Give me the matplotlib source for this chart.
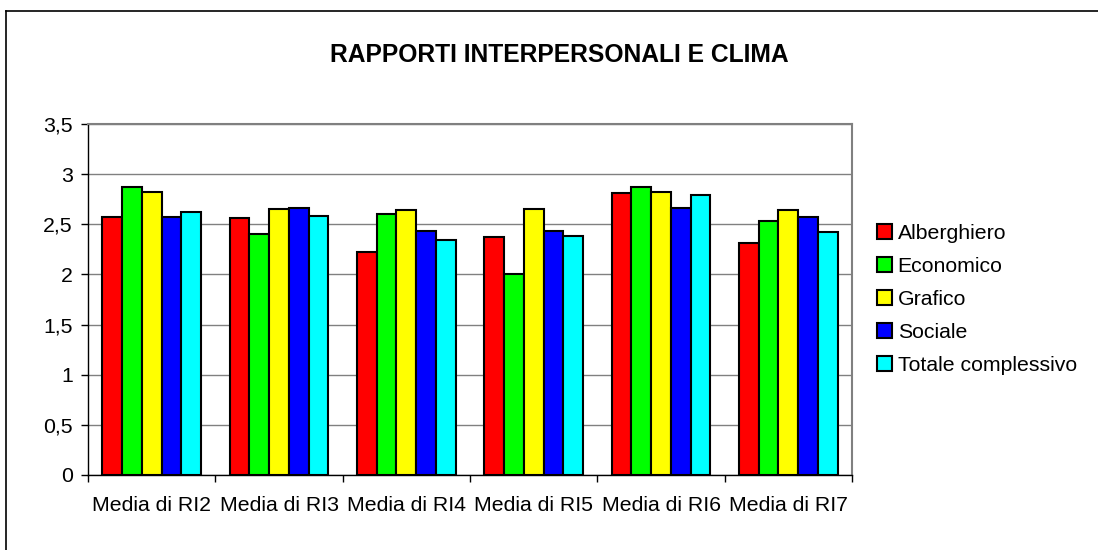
import numpy as np
import matplotlib
matplotlib.use('Agg')
import matplotlib.pyplot as plt
from matplotlib.patches import Patch

plt.rcParams['font.family'] = ['Liberation Sans', 'DejaVu Sans']

categorie = ['Media di RI2', 'Media di RI3', 'Media di RI4',
             'Media di RI5', 'Media di RI6', 'Media di RI7']
serie = ['Alberghiero', 'Economico', 'Grafico', 'Sociale', 'Totale complessivo']
colori = ['#FF0000', '#00FF00', '#FFFF00', '#0000FF', '#00FFFF']

alberghiero = [2.57, 2.56, 2.22, 2.37, 2.81, 2.31]
economico = [2.87, 2.40, 2.60, 2.00, 2.87, 2.53]
grafico = [2.82, 2.65, 2.64, 2.65, 2.82, 2.64]
sociale = [2.57, 2.66, 2.43, 2.43, 2.66, 2.57]
totale = [2.62, 2.58, 2.34, 2.38, 2.79, 2.42]
valori = [alberghiero, economico, grafico, sociale, totale]

yticks = [0, 0.5, 1, 1.5, 2, 2.5, 3, 3.5]
ylabels = ['0', '0,5', '1', '1,5', '2', '2,5', '3', '3,5']

fs = 15.3
fig = plt.figure(figsize=(10.98, 5.5), dpi=100)
ax = fig.add_axes([88 / 1098, 1 - 475 / 550, (852 - 88) / 1098, (475 - 124) / 550])

x = np.arange(len(categorie))
w = 0.1545
for i, (nome, vals) in enumerate(zip(serie, valori)):
    ax.bar(x + (i - 2) * w, vals, width=w, color=colori[i], edgecolor='black',
           linewidth=1.5, label=nome, zorder=3)

ax.set_xlim(-0.5, len(categorie) - 0.5)
ax.set_ylim(0, 3.5)
ax.set_yticks(yticks)
ax.set_yticklabels(ylabels, fontsize=fs)
ax.set_xticks(x)
ax.set_xticklabels(categorie, fontsize=fs)
ax.set_xticks(np.arange(-0.5, len(categorie), 1), minor=True)
ax.tick_params(axis='x', which='major', length=0, pad=15)
ax.tick_params(axis='x', which='minor', length=5, width=1, direction='out')
ax.tick_params(axis='y', length=5, width=1, direction='out', pad=6)
ax.yaxis.grid(True, color='#808080', linewidth=1, zorder=0)
ax.set_axisbelow(True)

for s in ['top', 'right']:
    ax.spines[s].set_color('#808080')
    ax.spines[s].set_linewidth(1.5)
for s in ['left', 'bottom']:
    ax.spines[s].set_color('black')
    ax.spines[s].set_linewidth(1)

fig.text(559 / 1098, 1 - 55 / 550, 'RAPPORTI INTERPERSONALI E CLIMA',
         fontsize=17.7, fontweight='bold', ha='center', va='center')

handles = [Patch(facecolor=c, edgecolor='black', linewidth=1.5) for c in colori]
fig.legend(handles, serie, loc='upper left', bbox_to_anchor=(877 / 1098, 1 - 224 / 550),
           frameon=False, fontsize=fs, handlelength=0.72, handleheight=0.72,
           handletextpad=0.25, labelspacing=0.66, borderpad=0, borderaxespad=0)

# cornice esterna del grafico
fig.add_artist(plt.Line2D([6 / 1098, 6 / 1098], [0, 1 - 11 / 550], color='black', linewidth=1.2))
fig.add_artist(plt.Line2D([6 / 1098, 1], [1 - 11 / 550, 1 - 11 / 550], color='black', linewidth=1.2))

fig.savefig('out.png', dpi=100)
